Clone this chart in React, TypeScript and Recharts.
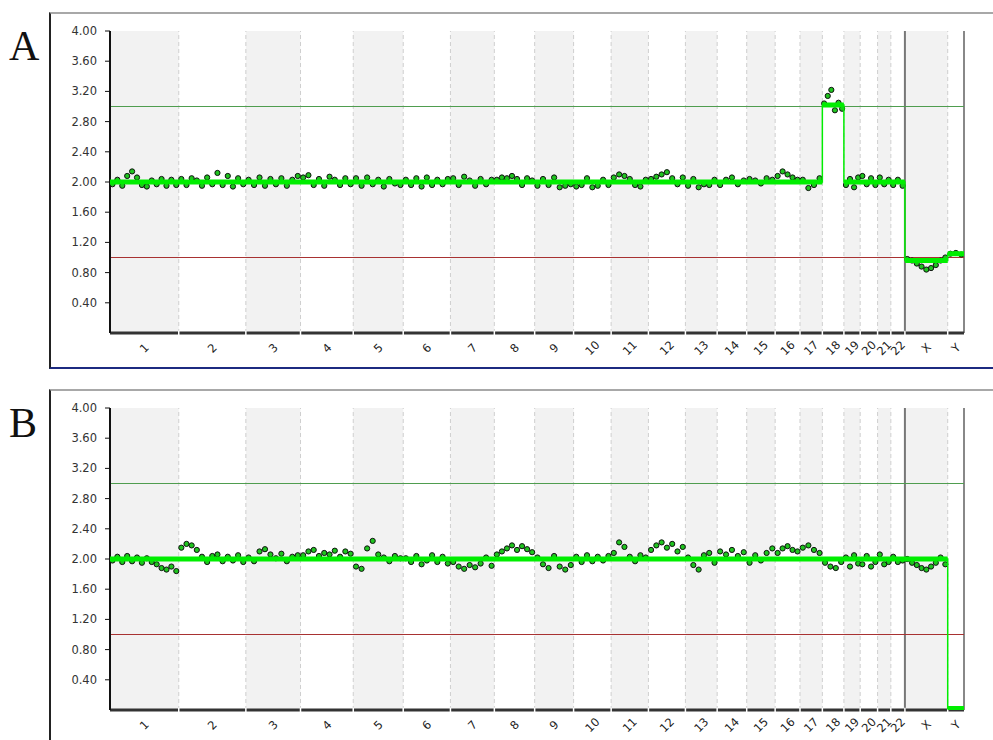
import React from 'react';
import {
  ComposedChart, Scatter, Line, XAxis, YAxis, ReferenceArea, ReferenceLine
} from 'recharts';

// chromosome names and lengths (Mb)
const CHROMS = ['1', '2', '3', '4', '5', '6', '7', '8', '9', '10', '11', '12', '13', '14', '15', '16', '17', '18', '19', '20', '21', '22', 'X', 'Y'];
const CHROM_LEN = [249, 243, 198, 191, 181, 171, 159, 146, 141, 136, 135, 134, 115, 107, 103, 90, 81, 78, 59, 63, 48, 51, 155, 59];

const Y_TICKS = [0.4, 0.8, 1.2, 1.6, 2.0, 2.4, 2.8, 3.2, 3.6, 4.0];

// probe copy numbers per chromosome, panel A
const A_PROBES = [
  [1.97, 2.03, 1.95, 2.08, 2.14, 2.06, 1.96, 1.94, 2.02, 1.97, 2.04, 1.95, 2.03, 1.96],
  [2.04, 1.96, 2.05, 2.02, 1.95, 2.06, 1.97, 2.12, 1.96, 2.08, 1.94, 2.05, 1.97],
  [2.03, 1.96, 2.06, 1.95, 2.04, 1.97, 2.05, 1.95, 2.03, 2.08],
  [2.06, 2.09, 1.96, 2.04, 1.95, 2.07, 2.03, 1.96, 2.05, 1.97],
  [2.05, 1.95, 2.06, 1.97, 2.03, 1.94, 2.04, 1.98, 1.96],
  [2.03, 1.96, 2.05, 1.94, 2.06, 1.96, 2.03, 1.97, 2.04],
  [2.05, 1.96, 2.07, 2.02, 1.95, 2.04, 1.97, 2.03],
  [2.03, 2.06, 2.05, 2.08, 2.04, 1.96, 2.05, 2.02],
  [1.95, 2.04, 1.96, 2.06, 1.93, 1.95, 1.97],
  [1.94, 1.96, 2.05, 1.93, 1.95, 2.03, 1.96],
  [2.06, 2.1, 2.08, 2.04, 1.96, 1.94, 2.03],
  [2.04, 2.07, 2.1, 2.13, 2.05, 1.97, 2.06],
  [1.95, 2.04, 1.93, 1.97, 1.96, 2.03],
  [1.96, 2.03, 2.06, 1.97, 2.02],
  [2.04, 2.02, 1.98, 2.05, 2.03],
  [2.08, 2.14, 2.1, 2.06, 2.03],
  [2.03, 1.92, 1.96, 2.05],
  [3.04, 3.14, 3.22, 2.95, 3.05, 2.97],
  [1.96, 2.04, 1.93, 2.06],
  [2.08, 1.97, 2.05, 1.96],
  [2.06, 1.97, 2.03],
  [1.96, 2.03, 1.95],
  [0.98, 0.96, 0.92, 0.88, 0.84, 0.86, 0.9, 0.96, 1.0],
  [1.05, 1.06, 1.04],
];

// probe copy numbers per chromosome, panel B
const B_PROBES = [
  [1.98, 2.03, 1.96, 2.04, 1.97, 2.02, 1.95, 2.01, 1.96, 1.93, 1.88, 1.86, 1.9, 1.84],
  [2.15, 2.2, 2.18, 2.12, 2.03, 1.96, 2.04, 2.06, 1.97, 2.03, 1.98, 2.05, 1.96],
  [2.02, 1.97, 2.1, 2.13, 2.06, 2.01, 2.07, 1.97, 2.03, 2.05],
  [2.05, 2.1, 2.12, 2.04, 2.08, 2.06, 2.11, 2.03, 2.1, 2.07],
  [1.9, 1.87, 2.14, 2.24, 2.06, 2.02, 1.97, 2.04, 2.01],
  [2.01, 1.96, 2.04, 1.93, 1.98, 2.05, 1.96, 2.03, 1.94],
  [1.96, 1.9, 1.87, 1.92, 1.89, 1.94, 2.02, 1.91],
  [2.06, 2.1, 2.14, 2.18, 2.12, 2.17, 2.13, 2.09],
  [2.02, 1.93, 1.88, 2.04, 1.9, 1.86, 1.92],
  [2.03, 1.96, 2.05, 1.97, 2.03, 1.98, 2.04],
  [2.08, 2.22, 2.16, 2.03, 1.97, 2.05, 2.02],
  [2.12, 2.18, 2.22, 2.15, 2.2, 2.1, 2.16],
  [2.02, 1.92, 1.86, 2.05, 2.08, 1.95],
  [2.1, 2.06, 2.12, 2.04, 2.09],
  [1.95, 2.05, 1.98, 2.08, 2.14],
  [2.08, 2.14, 2.17, 2.12, 2.1],
  [2.15, 2.18, 2.12, 2.08],
  [1.95, 1.9, 1.88, 1.96],
  [2.02, 1.9, 2.05, 1.94],
  [1.93, 2.04, 1.9, 1.96],
  [2.06, 1.93, 1.96],
  [2.03, 1.96, 1.98],
  [2.0, 1.95, 1.92, 1.88, 1.86, 1.9, 1.95, 2.02, 1.93],
  [],
];

// segmented copy number, panel A
const A_SEG_FROM = ['1', '18', '19', 'X', 'Y'];
const A_SEG_TO = ['17', '18', '22', 'X', 'Y'];
const A_SEG_CN = [2.0, 3.02, 2.0, 0.96, 1.05];

// segmented copy number, panel B
const B_SEG_FROM = ['1', 'Y'];
const B_SEG_TO = ['X', 'Y'];
const B_SEG_CN = [2.0, 0.02];

const FONT = "'DejaVu Sans', Verdana, sans-serif";

const starts: number[] = [];
CHROM_LEN.reduce((acc, l) => { starts.push(acc); return acc + l; }, 0);
const total = CHROM_LEN.reduce((a, b) => a + b, 0);
const centers = CHROM_LEN.map((l, i) => starts[i] + l / 2);

const probePoints = (probes: number[][]) =>
  probes.flatMap((vals, c) =>
    vals.map((v, i) => ({ x: starts[c] + ((i + 0.5) / vals.length) * CHROM_LEN[c], y: v })));

const segLines = (from: string[], to: string[], cn: number[]) => {
  const thin: { x: number; y: number | null }[] = [];
  const thick: { x: number; y: number | null }[] = [];
  cn.forEach((v, i) => {
    const a = starts[CHROMS.indexOf(from[i])];
    const ti = CHROMS.indexOf(to[i]);
    const b = starts[ti] + CHROM_LEN[ti];
    thin.push({ x: a, y: v }, { x: b, y: v });
    thick.push({ x: a, y: v }, { x: b, y: v }, { x: b, y: null });
  });
  return { thin, thick };
};

const ChromTick = (props: any) => {
  const { x, y, payload } = props;
  const idx = centers.findIndex((c) => Math.abs(c - payload.value) < 0.01);
  return (
    <g transform={`translate(${x},${y + 7})`}>
      <text transform="rotate(-45)" textAnchor="middle" dominantBaseline="central"
        fontSize={11.5} fill="#222" fontFamily={FONT}>
        {CHROMS[idx]}
      </text>
    </g>
  );
};

const Panel: React.FC<{ probes: number[][]; from: string[]; to: string[]; cn: number[] }> = ({ probes, from, to, cn }) => {
  const points = probePoints(probes);
  const { thin, thick } = segLines(from, to, cn);
  return (
    <ComposedChart width={993} height={370} margin={{ top: 31, right: 29, bottom: 0, left: 0 }}>
      {CHROM_LEN.map((l, i) => i % 2 === 0 ? (
        <ReferenceArea key={'band' + i} x1={starts[i]} x2={starts[i] + l} y1={0} y2={4}
          fill="#f2f2f2" fillOpacity={1} stroke="none" />
      ) : null)}
      {starts.slice(1).map((s, i) => (
        <ReferenceLine key={'b' + i} x={s} stroke={CHROMS[i + 1] === 'X' ? '#777' : '#cfcfcf'}
          strokeWidth={CHROMS[i + 1] === 'X' ? 2 : 1}
          strokeDasharray={CHROMS[i + 1] === 'X' ? undefined : '4 3'} />
      ))}
      <ReferenceLine x={total} stroke="#888" strokeWidth={2} />
      <ReferenceLine y={3} stroke="#4f9d4f" strokeWidth={1.2} />
      <ReferenceLine y={1} stroke="#a83232" strokeWidth={1.2} />
      <XAxis dataKey="x" type="number" domain={[0, total]} ticks={centers} interval={0}
        height={37} tick={<ChromTick />} tickLine={false}
        axisLine={{ stroke: '#333', strokeWidth: 3 }} allowDataOverflow />
      <YAxis type="number" domain={[0, 4]} ticks={Y_TICKS} interval={0} width={110}
        tickFormatter={(v: number) => v.toFixed(2)} tickSize={5} tickMargin={8}
        tick={{ fontSize: 11.5, fill: '#333', fontFamily: FONT }}
        tickLine={{ stroke: '#111' }} axisLine={{ stroke: '#111', strokeWidth: 2 }} allowDataOverflow />
      {starts.slice(1).map((s, i) => (
        <ReferenceLine key={'gap' + i} segment={[{ x: s, y: -0.03 }, { x: s, y: 0.03 }]}
          stroke="#fff" strokeWidth={1.5} ifOverflow="visible" zIndex={650} />
      ))}
      <Scatter data={points} dataKey="y" isAnimationActive={false}
        shape={(p: any) => <circle cx={p.cx} cy={p.cy} r={2.6} fill="#1fc41f" stroke="#111" strokeWidth={1} />} />
      <Line data={thin} dataKey="y" type="linear" stroke="#00ee00" strokeWidth={1.5} dot={false}
        isAnimationActive={false} zIndex={700} />
      <Line data={thick} dataKey="y" type="linear" stroke="#00ee00" strokeWidth={5} dot={false}
        connectNulls={false} isAnimationActive={false} zIndex={700} />
    </ComposedChart>
  );
};

const frameStyle = (top: number, height: number, bottom: boolean): React.CSSProperties => ({
  position: 'absolute', left: 49, top, width: 1000, height,
  borderTop: '2px solid #a8a8a8', borderLeft: '2px solid #222',
  borderBottom: bottom ? '2px solid #1c2a80' : 'none',
});

const letterStyle = (top: number): React.CSSProperties => ({
  position: 'absolute', left: 9, top, fontSize: 42, lineHeight: '42px',
  fontFamily: "'Liberation Serif', 'Times New Roman', serif", color: '#111',
});

export default function App() {
  return (
    <div style={{ position: 'absolute', left: 0, top: 0, width: 993, height: 740, overflow: 'hidden', background: '#fff' }}>
      <div style={frameStyle(12, 353, true)} />
      <div style={frameStyle(389, 400, false)} />
      <div style={letterStyle(25)}>A</div>
      <div style={letterStyle(402)}>B</div>
      <div style={{ position: 'absolute', left: 0, top: 0 }}>
        <Panel probes={A_PROBES} from={A_SEG_FROM} to={A_SEG_TO} cn={A_SEG_CN} />
      </div>
      <div style={{ position: 'absolute', left: 0, top: 377 }}>
        <Panel probes={B_PROBES} from={B_SEG_FROM} to={B_SEG_TO} cn={B_SEG_CN} />
      </div>
    </div>
  );
}
